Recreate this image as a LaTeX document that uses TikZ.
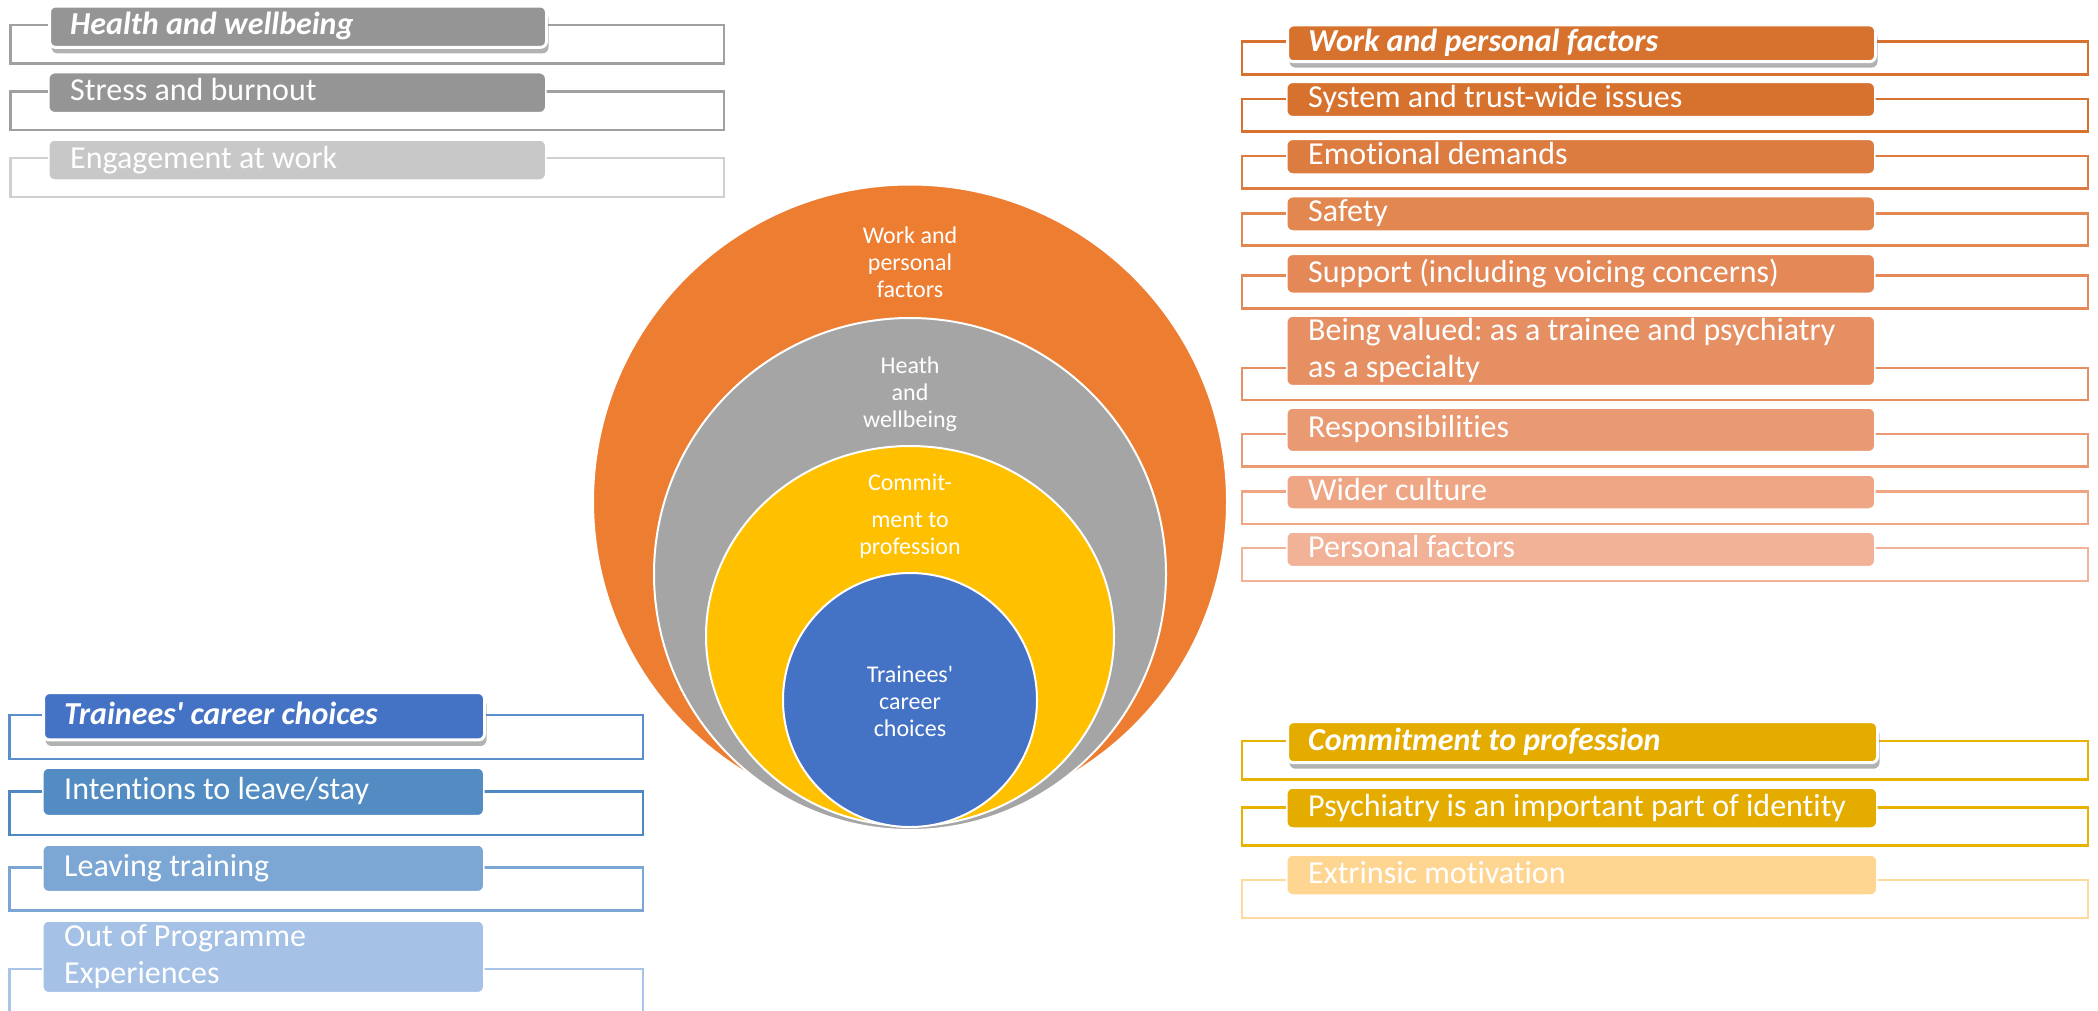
\documentclass[tikz,border=0pt]{standalone}
\usepackage{fontspec}
\setmainfont{Carlito}[Ligatures={TeX,NoCommon,NoContextual,NoRare},Contextuals=NoAlternate]
\usetikzlibrary{shadows}

% rings
\definecolor{ringO}{HTML}{ED7D31}
\definecolor{ringG}{HTML}{A5A5A5}
\definecolor{ringY}{HTML}{FFC000}
\definecolor{ringB}{HTML}{4472C4}
% health and wellbeing
\definecolor{hw1}{HTML}{959595}
\definecolor{hw3}{HTML}{C8C8C8}
\definecolor{hwl1}{HTML}{A0A0A0}
\definecolor{hwl3}{HTML}{D0D0D0}
% work and personal factors
\definecolor{wp1}{HTML}{D6722E}
\definecolor{wp3}{HTML}{DC7C41}
\definecolor{wp4}{HTML}{E2874F}
\definecolor{wp5}{HTML}{E38856}
\definecolor{wp6}{HTML}{E58F63}
\definecolor{wp7}{HTML}{EA9A72}
\definecolor{wp8}{HTML}{EEA684}
\definecolor{wp9}{HTML}{F2B298}
% commitment to profession
\definecolor{cp1}{HTML}{E5AC00}
\definecolor{cp3}{HTML}{FFD592}
\definecolor{cpl1}{HTML}{E8B200}
\definecolor{cpl3}{HTML}{FFDA9C}
% career choices
\definecolor{tc1}{HTML}{4472C4}
\definecolor{tc2}{HTML}{528CC2}
\definecolor{tc3}{HTML}{7CA6D4}
\definecolor{tc4}{HTML}{A5C1E5}
\definecolor{tcl1}{HTML}{5B8FCB}
\definecolor{tcl2}{HTML}{4F89C2}
\definecolor{tcl3}{HTML}{7BA5D4}
\definecolor{tcl4}{HTML}{A8C4E7}

\newcommand\boxstrut{\rule[-6pt]{0pt}{27pt}}

\tikzset{
  listframe/.style={line width=2.5pt},
  itembox/.style={rectangle, rounded corners=6pt, draw=white, line width=1.5pt,
    anchor=west, inner sep=0pt},
  headbox/.style={itembox, line width=3pt,
    drop shadow={shadow xshift=2pt, shadow yshift=-6pt, opacity=0.3, fill=black}},
  itemtext/.style={anchor=west, inner xsep=22pt, inner ysep=0pt, text=white, align=left,
    font=\fontsize{32}{37}\selectfont,
    execute at begin node=\boxstrut, execute at end node=\boxstrut},
  headtext/.style={itemtext, font=\fontsize{32}{37}\selectfont\bfseries\itshape},
  ring/.style={draw=white, line width=2pt},
  ringlabel/.style={text=white, align=center, font=\fontsize{24}{27}\selectfont}
}

\frenchspacing
\begin{document}
\begin{tikzpicture}[x=1pt, y=-1pt]
  % canvas
  \path[use as bounding box] (0,0) rectangle (2098,1010);
  \clip (0,0) rectangle (2098,1010);

  % nested rings
  \path[ring, fill=ringO] (910,501.5) circle (317pt);
  \path[ring, fill=ringG] (910,574) circle (256pt);
  \path[ring, fill=ringY] (910,636) ellipse (204pt and 190pt);
  \path[ring, fill=ringB] (910,700) circle (127pt);
  \node[ringlabel] (work) at (910,262) {Work and\\personal\\factors};
  \node[ringlabel] (heath) at (910,394.5) {Heath\\and\\wellbeing};
  \node[ringlabel] (commit) at (910,516) {Commit-\\[10pt]ment to\\profession};
  \node[ringlabel] (career) at (910,701) {Trainees\textquotesingle\\career\\choices};

  % health and wellbeing
  \draw[listframe, draw=hwl1] (10.7,25) rectangle (724,63.3);
  \node[headbox, fill=hw1, minimum width=497pt, minimum height=41.3pt] (hw0) at (48,26.7) {};
  \node[headtext] (hw0t) at (hw0.west) {Health and wellbeing};
  \foreach \txt/\bt/\bb/\ot/\ob/\fc/\lc [count=\i] in {
      {Stress and burnout}/72.7/112.7/91.7/130/hw1/hwl1,
      {Engagement at work}/140/180/158/197/hw3/hwl3}{
    \draw[listframe, draw=\lc] (10.7,\ot) rectangle (724,\ob);
    \node[itembox, fill=\fc, minimum width=497pt, minimum height={(\bb-\bt)*1pt}] (hw\i) at (48,{(\bt+\bb)/2}) {};
    \node[itemtext] (hw\i t) at (hw\i.west) {\txt};
  }

  % work and personal factors
  \draw[listframe, draw=wp1] (1242,41.7) rectangle (2088,74.3);
  \node[headbox, fill=wp1, minimum width=588pt, minimum height=36.7pt] (wp0) at (1286,43.3) {};
  \node[headtext] (wp0t) at (wp0.west) {Work and personal factors};
  \foreach \txt/\bt/\bb/\ot/\ob/\fc [count=\i] in {
      {System and trust-wide issues}/82.3/116.7/99/131.7/wp1,
      {Emotional demands}/139.3/174/156/188.3/wp3,
      {Safety}/196.7/231/213.3/245.7/wp4,
      {Support (including voicing concerns)}/254.3/293.3/275.7/308.3/wp5,
      {Being valued: as a trainee and psychiatry\\as a specialty}/316/385.7/368/400/wp6,
      {Responsibilities}/408/451.7/434/466.7/wp7,
      {Wider culture}/475/509/491.7/524/wp8,
      {Personal factors}/532/566.7/548/581/wp9}{
    \draw[listframe, draw=\fc] (1242,\ot) rectangle (2088,\ob);
    \node[itembox, fill=\fc, minimum width=588pt, minimum height={(\bb-\bt)*1pt}] (wp\i) at (1286,{(\bt+\bb)/2}) {};
    \node[itemtext] (wp\i t) at (wp\i.west) {\txt};
  }

  % commitment to profession
  \draw[listframe, draw=cpl1] (1242,741) rectangle (2088,779.3);
  \node[headbox, fill=cp1, minimum width=590pt, minimum height=41pt] (cp0) at (1286,742.2) {};
  \node[headtext] (cp0t) at (cp0.west) {Commitment to profession};
  \foreach \txt/\bt/\bb/\ot/\ob/\fc/\lc [count=\i] in {
      {Psychiatry is an important part of identity}/788/828/807.7/845.7/cp1/cpl1,
      {Extrinsic motivation}/855/895/880/918/cp3/cpl3}{
    \draw[listframe, draw=\lc] (1242,\ot) rectangle (2088,\ob);
    \node[itembox, fill=\fc, minimum width=590pt, minimum height={(\bb-\bt)*1pt}] (cp\i) at (1286,{(\bt+\bb)/2}) {};
    \node[itemtext] (cp\i t) at (cp\i.west) {\txt};
  }

  % trainees' career choices
  \draw[listframe, draw=tcl1] (9.3,715) rectangle (643,759);
  \node[headbox, fill=tc1, minimum width=441pt, minimum height=47.3pt] (tc0) at (42,716.3) {};
  \node[headtext] (tc0t) at (tc0.west) {Trainees\textquotesingle\ career choices};
  \foreach \txt/\bt/\bb/\ot/\ob/\fc/\lc [count=\i] in {
      {Intentions to leave/stay}/768/815.7/791.7/835/tc2/tcl2,
      {Leaving training}/845/891.7/867.7/910.7/tc3/tcl3,
      {Out of Programme\\Experiences}/921/992.7/969/1030/tc4/tcl4}{
    \draw[listframe, draw=\lc] (9.3,\ot) rectangle (643,\ob);
    \node[itembox, fill=\fc, minimum width=441pt, minimum height={(\bb-\bt)*1pt}] (tc\i) at (42,{(\bt+\bb)/2}) {};
    \node[itemtext] (tc\i t) at (tc\i.west) {\txt};
  }
\end{tikzpicture}
\end{document}
